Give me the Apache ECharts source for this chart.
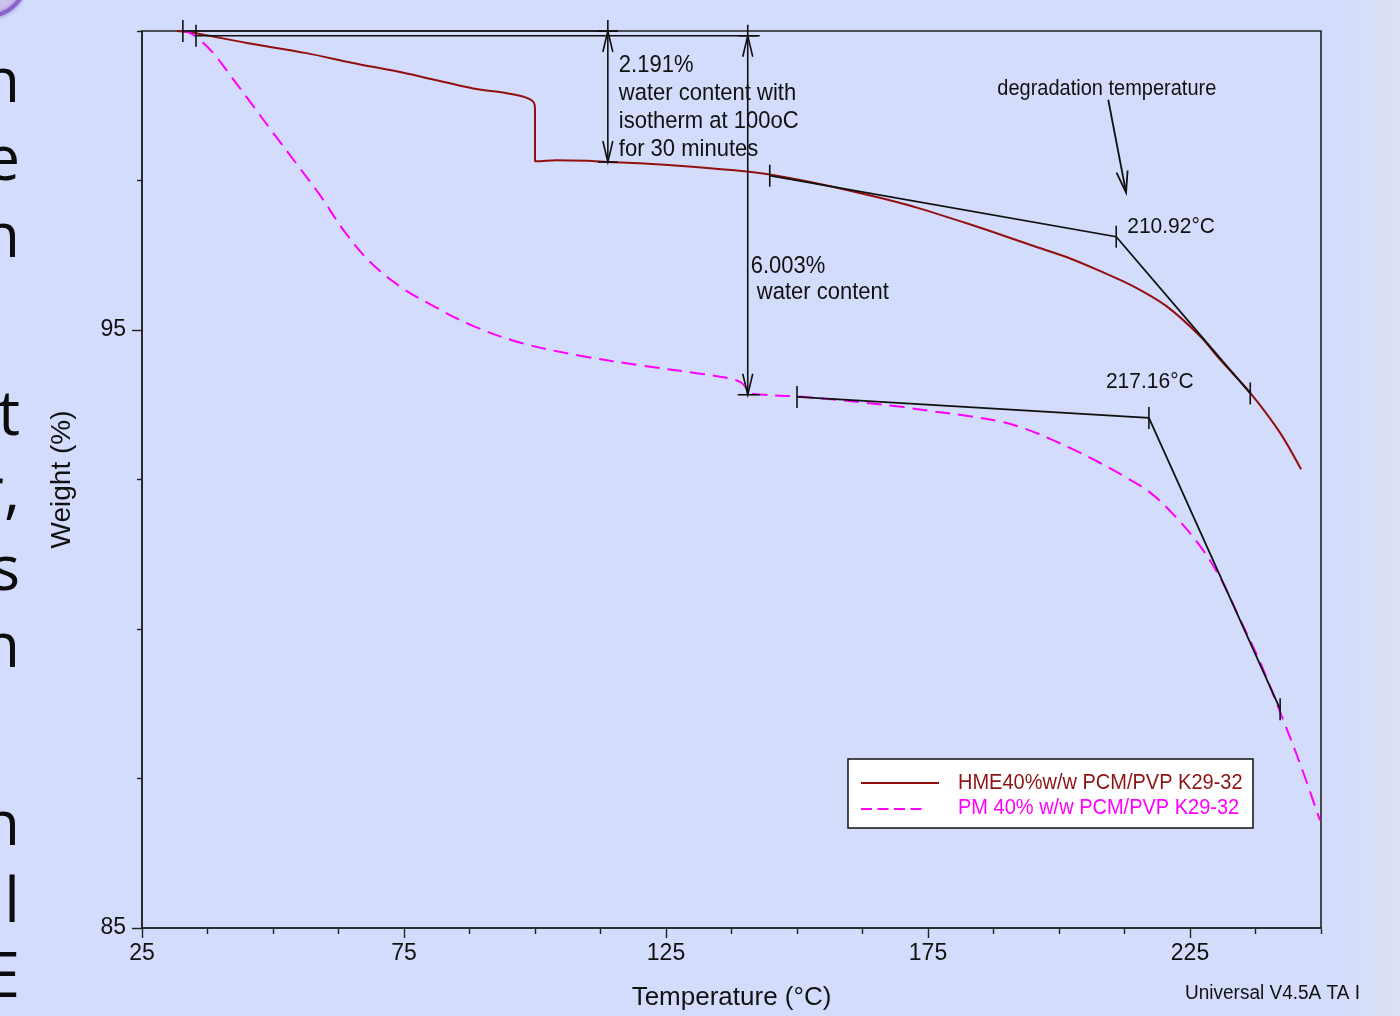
<!DOCTYPE html>
<html>
<head>
<meta charset="utf-8">
<title>TGA – PCM/PVP K29-32</title>
<script src="https://cdn.jsdelivr.net/npm/echarts@6/dist/echarts.min.js"></script>
<style>
  html, body { margin: 0; padding: 0; background: #d3dcfb; }
  #chart { width: 1400px; height: 1016px; }
</style>
</head>
<body>
<div id="chart"></div>
<script>
// Thermogravimetric curves: weight (%) against temperature (°C)
const hmeCurve = [
  [31.7, 100.0], [34.8, 99.97], [45, 99.80], [56.4, 99.63], [65, 99.47], [75.5, 99.29],
  [88.2, 99.04], [94.6, 98.96], [97.5, 98.91], [99.0, 98.86], [99.8, 98.80], [100.0, 98.70],
  [100.0, 98.2], [100.0, 97.82], [100.3, 97.82], [104, 97.84], [110, 97.83], [113.9, 97.81],
  [120, 97.79], [130, 97.73], [140.4, 97.65], [144.8, 97.60], [155, 97.43], [165.8, 97.21],
  [173.5, 97.03], [181.1, 96.82], [186, 96.68], [191.0, 96.53], [196, 96.38], [202, 96.20],
  [208, 95.98], [214.2, 95.73], [220.5, 95.40], [226.9, 94.90], [230.7, 94.51], [236.5, 93.95],
  [242.2, 93.28], [246.2, 92.67]
];
const pmCurve = [
  [32.8, 100.0], [34.3, 99.96], [36.1, 99.85], [38.9, 99.60], [42, 99.24], [45, 98.89],
  [50, 98.30], [55, 97.72], [59, 97.25], [63.7, 96.64], [68.5, 96.14], [74.2, 95.73],
  [80, 95.43], [87.6, 95.09], [97.1, 94.79], [108.6, 94.57], [120, 94.41], [131.5, 94.27],
  [136.5, 94.20], [139.2, 94.13], [140.3, 94.03], [140.6, 93.96], [142.9, 93.92], [149.9, 93.89],
  [156.5, 93.84], [163.3, 93.78], [169.5, 93.72], [175.9, 93.64], [182, 93.57], [188.7, 93.47],
  [193.5, 93.35], [198.3, 93.18], [203, 92.99], [207.8, 92.78], [212.5, 92.55], [217.4, 92.28],
  [222, 91.90], [226.9, 91.39], [230.8, 90.85], [234.5, 90.17], [238.5, 89.42], [242.2, 88.61],
  [246.0, 87.75], [249.8, 86.80]
];
const seriesNames = ['HME40%w/w PCM/PVP K29-32', 'PM 40% w/w PCM/PVP K29-32'];

// axis ticks
const xMajorTicks = [25, 75, 125, 175, 225];
const xMinorTicks = [37.5, 50, 62.5, 87.5, 100, 112.5, 137.5, 150, 162.5, 187.5, 200, 212.5, 237.5, 250];
const yMajorTicks = [85, 95];
const yMinorTicks = [87.5, 90, 92.5, 97.5, 100];

// step (weight loss) analyses
const stepStartTemps = [32.8, 35.3];
const stepStartWeights = [100.0, 99.92];
const stepArrowTemps = [113.9, 140.6];
const stepLosses = [2.191, 6.003];
const stepNotes = ['water content with\nisotherm at 100oC\nfor 30 minutes', ' water content'];

// onset (degradation) analyses
const onsetTemps = [210.92, 217.16];
const onsetWeights = [96.56, 93.53];
const tangentStart = [[144.8, 97.58], [150.0, 93.88]];
const tangentEnd = [[236.5, 93.94], [242.2, 88.66]];
const degradationArrow = [[209.4, 98.85], [212.8, 97.30]];

const RED = '#930f0f';
const MAGENTA = '#ff00ff';
const INK = '#111111';
const FONT = '"Liberation Sans", Arial, Helvetica, sans-serif';
const TALL = 1.08;   // the instrument's lettering is a little taller than Arial

const chart = echarts.init(document.getElementById('chart'), null, { renderer: 'canvas' });

function seg(a, b, w) {
  return { type: 'line', shape: { x1: a[0], y1: a[1], x2: b[0], y2: b[1] },
           style: { stroke: INK, lineWidth: w || 1.6 } };
}
function vTick(p, half) { return seg([p[0], p[1] - half], [p[0], p[1] + half]); }
function head(tip, dir) {
  // open arrow head; dir = -1 points up, +1 points down
  return { type: 'polyline',
           shape: { points: [[tip[0] - 5, tip[1] - dir * 21], tip, [tip[0] + 5, tip[1] - dir * 21]] },
           style: { stroke: INK, lineWidth: 1.6, fill: null } };
}
function label(text, x, y, size, lh) {
  return { type: 'text', x: x, y: y, scaleY: TALL,
           style: { text: text, fill: INK, font: size + 'px ' + FONT,
                    align: 'left', verticalAlign: 'top', lineHeight: lh || size } };
}

function renderAnnotation(params, api) {
  const i = params.dataIndex;
  const kids = [];
  if (i < 2) {
    // weight-loss step: start tick, reference line, double arrow with caps, label
    const start = api.coord([stepStartTemps[i], stepStartWeights[i]]);
    const top = api.coord([stepArrowTemps[i], stepStartWeights[i]]);
    const bottom = api.coord([stepArrowTemps[i], stepStartWeights[i] - stepLosses[i]]);
    kids.push(vTick(start, 11));
    kids.push(seg(start, [top[0] + (i === 0 ? 10 : 12), top[1]]));
    kids.push(seg([top[0] - 10, top[1]], [top[0] + 10, top[1]]));
    kids.push(seg([top[0], top[1] - 11], bottom));
    kids.push(seg([bottom[0] - 10, bottom[1]], [bottom[0] + (i === 0 ? 10 : 12), bottom[1]]));
    kids.push(head(top, -1));
    kids.push(head(bottom, 1));
    const text = stepLosses[i].toFixed(3) + '%\n' + stepNotes[i];
    if (i === 0) kids.push(label(text, top[0] + 11, top[1] + 20, 22, 26));
    else kids.push(label(text, top[0] + 3, top[1] + 218, 22, 24));
  } else if (i < 4) {
    // onset: tangent lines through the extrapolated onset point
    const k = i - 2;
    const a = api.coord(tangentStart[k]);
    const o = api.coord([onsetTemps[k], onsetWeights[k]]);
    const b = api.coord(tangentEnd[k]);
    kids.push({ type: 'polyline', shape: { points: [a, o, b] },
                style: { stroke: INK, lineWidth: 1.8, fill: null } });
    kids.push(vTick(a, 11), vTick(o, 11), vTick(b, 11));
    const text = onsetTemps[k].toFixed(2) + '°C';
    if (k === 0) kids.push(label(text, o[0] + 11, o[1] - 21, 21));
    else kids.push(label(text, o[0] - 43, o[1] - 48, 21));
  } else {
    const p = api.coord(degradationArrow[0]);
    const q = api.coord(degradationArrow[1]);
    kids.push(seg(p, q, 1.8));
    const ang = Math.atan2(q[1] - p[1], q[0] - p[0]);
    const L = 22, spread = 0.26;
    kids.push({ type: 'polyline',
      shape: { points: [
        [q[0] - L * Math.cos(ang - spread), q[1] - L * Math.sin(ang - spread)], q,
        [q[0] - L * Math.cos(ang + spread), q[1] - L * Math.sin(ang + spread)]] },
      style: { stroke: INK, lineWidth: 1.8, fill: null } });
    kids.push(label('degradation temperature', p[0] - 111, p[1] - 22, 20));
  }
  return { type: 'group', children: kids };
}

// fragments of slide text running in from the left edge
const slideLetters = ['n', 'e', 'n', 't', 'r,', 's', 'n', 'n', 'al', 'E'];
const slideBaselines = [102, 180, 257, 435, 512, 590, 667, 845, 922, 997];

const graphics = [
  { type: 'rect', z: -10, silent: true, shape: { x: 0, y: 0, width: 1400, height: 1016 },
    style: { fill: { type: 'linear', x: 0, y: 0, x2: 1, y2: 0,
      colorStops: [{ offset: 0, color: '#d3dcfc' }, { offset: 0.955, color: '#d3dcfb' },
                   { offset: 0.99, color: '#d9e0f5' }, { offset: 1, color: '#dae1f4' }] } } },
  { type: 'circle', z: -9, silent: true, shape: { cx: -12, cy: -22, r: 38 },
    style: { fill: '#cdc4ee', stroke: '#8b66c9', lineWidth: 4, shadowBlur: 4, shadowColor: '#9a7ad6' } },
  // legend box
  { type: 'rect', shape: { x: 848, y: 759, width: 405, height: 69 },
    style: { fill: '#ffffff', stroke: INK, lineWidth: 1.5 } },
  { type: 'line', shape: { x1: 861, y1: 783, x2: 939, y2: 783 }, style: { stroke: RED, lineWidth: 2 } },
  { type: 'line', shape: { x1: 861, y1: 809, x2: 922, y2: 809 },
    style: { stroke: MAGENTA, lineWidth: 2, lineDash: [11, 5.5] } },
  { type: 'text', x: 958, y: 783, scaleY: TALL,
    style: { text: seriesNames[0], fill: '#8c1414', font: '20px ' + FONT, verticalAlign: 'middle' } },
  { type: 'text', x: 958, y: 808, scaleY: TALL,
    style: { text: seriesNames[1], fill: MAGENTA, font: '20px ' + FONT, verticalAlign: 'middle' } },
  { type: 'text', x: 1185, y: 993, scaleY: TALL,
    style: { text: 'Universal V4.5A TA I', fill: INK, font: '19px ' + FONT, verticalAlign: 'middle' } }
];
slideLetters.forEach(function (t, k) {
  graphics.push({ type: 'text', x: 20, y: slideBaselines[k] - 18, silent: true,
    style: { text: t, fill: '#0c0c0c', font: '62px "Open Sans", "Noto Sans", sans-serif',
             align: 'right', verticalAlign: 'middle' } });
});

const axisText = { color: INK, fontFamily: FONT, fontSize: 23 };

chart.setOption({
  animation: false,
  backgroundColor: '#d3dcfb',
  graphic: graphics,
  grid: { left: 142, top: 31, right: 79, bottom: 87, show: true,
          borderColor: '#222', borderWidth: 1.6, backgroundColor: 'transparent' },
  xAxis: [
    { type: 'value', min: 25, max: 250, position: 'bottom',
      name: 'Temperature (°C)', nameLocation: 'middle', nameGap: 57,
      nameTextStyle: { color: INK, fontFamily: FONT, fontSize: 26 },
      axisLine: { show: true, lineStyle: { color: '#222', width: 1.6 } },
      axisTick: { show: true, customValues: xMajorTicks, length: 10, lineStyle: { color: '#222', width: 1.4 } },
      axisLabel: { show: true, customValues: xMajorTicks, margin: 14, ...axisText },
      splitLine: { show: false } },
    { type: 'value', min: 25, max: 250, position: 'top', offset: -898,
      axisLine: { show: false },
      axisTick: { show: true, inside: true, customValues: xMinorTicks, length: 5, lineStyle: { color: '#222', width: 1.4 } },
      axisLabel: { show: false }, splitLine: { show: false } }
  ],
  yAxis: [
    { type: 'value', min: 85, max: 100, position: 'left',
      name: 'Weight (%)', nameLocation: 'middle', nameGap: 66,
      nameTextStyle: { color: INK, fontFamily: FONT, fontSize: 28 },
      axisLine: { show: true, lineStyle: { color: '#222', width: 1.6 } },
      axisTick: { show: true, customValues: yMajorTicks, length: 10, lineStyle: { color: '#222', width: 1.4 } },
      axisLabel: { show: true, customValues: yMajorTicks, margin: 16, ...axisText },
      splitLine: { show: false } },
    { type: 'value', min: 85, max: 100, position: 'right', offset: -1179,
      axisLine: { show: false },
      axisTick: { show: true, inside: true, customValues: yMinorTicks, length: 5, lineStyle: { color: '#222', width: 1.4 } },
      axisLabel: { show: false }, splitLine: { show: false } }
  ],
  series: [
    { name: seriesNames[0], type: 'line', data: hmeCurve, xAxisIndex: 0, yAxisIndex: 0,
      showSymbol: false, symbol: 'none', smooth: 0.3, z: 3,
      lineStyle: { color: RED, width: 2 } },
    { name: seriesNames[1], type: 'line', data: pmCurve, xAxisIndex: 0, yAxisIndex: 0,
      showSymbol: false, symbol: 'none', smooth: 0.35, z: 3,
      lineStyle: { color: MAGENTA, width: 2, type: [15, 8] } },
    { name: 'analysis', type: 'custom', xAxisIndex: 0, yAxisIndex: 0, z: 5, silent: true, clip: false,
      data: [
        [stepArrowTemps[0], stepStartWeights[0]],
        [stepArrowTemps[1], stepStartWeights[1]],
        [onsetTemps[0], onsetWeights[0]],
        [onsetTemps[1], onsetWeights[1]],
        degradationArrow[1]
      ],
      renderItem: renderAnnotation }
  ]
});
</script>
</body>
</html>
